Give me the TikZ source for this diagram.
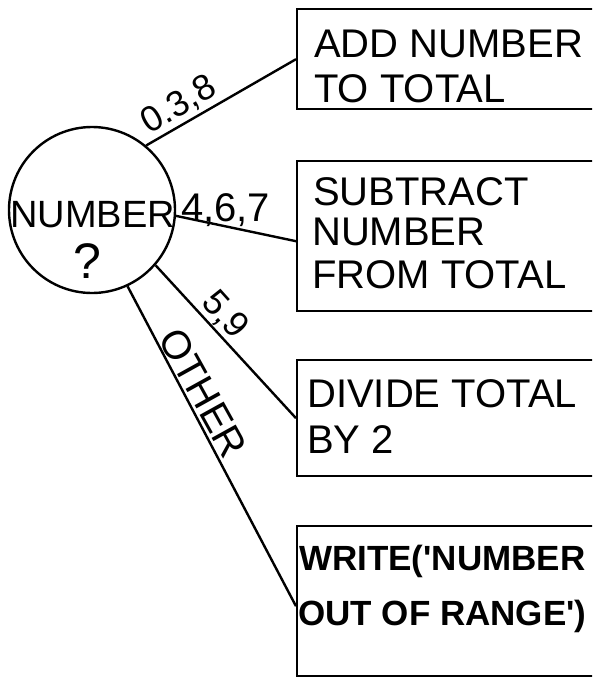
\documentclass[tikz,border=0pt]{standalone}
\usepackage{fontspec}
\setmainfont{Liberation Sans}
\begin{document}
\begin{tikzpicture}[x=1pt,y=-1pt,
  conn/.style={line width=2.4pt},
  boxnode/.style={draw, line width=2.4pt, rectangle, minimum width=330pt, anchor=north west, inner sep=0},
  txt/.style={inner sep=0, anchor=base west, font=\fontsize{40}{40}\selectfont},
  wtxt/.style={inner sep=0, anchor=base west, font=\fontsize{35}{35}\selectfont\bfseries},
  lbl/.style={inner sep=0, anchor=base, font=\fontsize{36}{36}\selectfont}]
\clip (0,0) rectangle (592,677);
% decision circle
\node[draw, circle, line width=2.4pt, minimum size=166pt, inner sep=0] (c) at (92,210) {};
\node[inner sep=0, anchor=base, font=\fontsize{38}{38}\selectfont] (n1) at (92.5,227) {NUMBER};
\node[inner sep=0, anchor=base, font=\fontsize{50}{50}\selectfont] (q) at (87,278) {?};
% boxes
\node[boxnode, minimum height=100pt] (b1) at (296,8) {};
\node[boxnode, minimum height=150pt] (b2) at (296,160) {};
\node[boxnode, minimum height=116pt] (b3) at (296,359) {};
\node[boxnode, minimum height=150pt] (b4) at (296,525) {};
% box texts
\node[txt] (t1a) at (314,58) {ADD NUMBER};
\node[txt] (t1b) at (314,102) {TO TOTAL};
\node[txt] (t2a) at (313,205) {SUBTRACT};
\node[txt] (t2b) at (312,245) {NUMBER};
\node[txt] (t2c) at (312,288) {FROM TOTAL};
\node[txt] (t3a) at (307,407) {DIVIDE TOTAL};
\node[txt] (t3b) at (307,453) {BY 2};
\node[wtxt] (t4a) at (299,570) {WRITE(\textquotesingle NUMBER};
\node[wtxt] (t4b) at (298,625) {OUT OF RANGE\textquotesingle)};
% connectors
\draw[conn] (c.50.8) -- (b1.west);
\draw[conn] (c.-4.8) -- ([yshift=-5pt]b2.west);
\draw[conn] (c.-41.2) -- (b3.west);
\draw[conn] (c.-65.8) -- ([yshift=-5pt]b4.west);
% labels
\node[lbl, rotate=30] (l1) at (184,114) {0.3,8};
\node[lbl, font=\fontsize{40}{40}\selectfont] (l2) at (225.5,221) {4,6,7};
\node[lbl, rotate=-48] (l3) at (217,322) {5,9};
\node[lbl, rotate=-61, font=\fontsize{40}{40}\selectfont] (l4) at (191,399.5) {OTHER};
\end{tikzpicture}
\end{document}
